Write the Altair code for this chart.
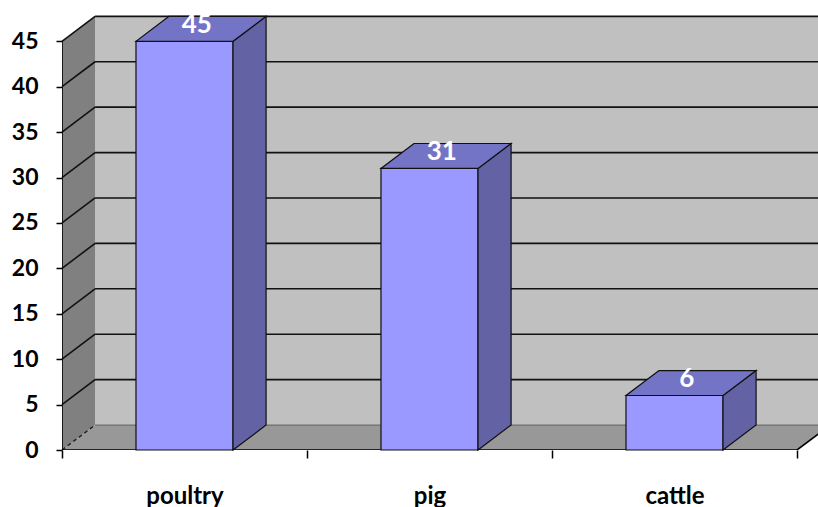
import altair as alt
import pandas as pd

# Counts per livestock category
categories = ["poultry", "pig", "cattle"]
counts = [45, 31, 6]
y_ticks = [0, 5, 10, 15, 20, 25, 30, 35, 40, 45]
y_top = 45

# 3-D box geometry, in scale units
DX = 0.135          # depth offset along x (category widths)
DY = 2.75           # depth offset along y (count units)
BAR_L, BAR_R = 0.302, 0.698
X_MAX = 756 / 245
N = len(categories)

FONT = "Lato"
FRONT, TOP, SIDE = "#9999FF", "#7474C6", "#6262A4"

x_scale = alt.Scale(domain=[0, X_MAX], nice=False, zero=False)
y_scale = alt.Scale(domain=[0, 49], nice=False)

label_expr = " : ".join(
    f"datum.value == {i + 0.5} ? '{c}'" for i, c in enumerate(categories)
) + " : ''"

x_axis = alt.Axis(
    values=[v / 2 for v in range(0, 2 * N + 1)],
    domain=False, grid=False, title=None,
    tickSize=8, tickColor="black", tickWidth=1.5,
    tickOpacity={"condition": {"test": "datum.value % 1 == 0", "value": 1}, "value": 0},
    labelExpr=label_expr, labelPadding=45, labelBaseline="alphabetic",
    labelFont=FONT, labelFontWeight="bold", labelFontSize=24, labelColor="black",
    labelOverlap=False, labelFlush=False,
)
y_axis = alt.Axis(
    values=y_ticks, domain=False, grid=False, title=None,
    tickSize=6, tickColor="black", tickWidth=1.5,
    labelFont=FONT, labelFontWeight="bold", labelFontSize=23, labelColor="black",
    labelPadding=18,
)


def X(f):
    return alt.X(f, type="quantitative", scale=x_scale, axis=x_axis)


def Y(f):
    return alt.Y(f, type="quantitative", scale=y_scale, axis=y_axis)


# ---- walls and floor ----
back = pd.DataFrame({"x": [DX], "x2": [N + DX], "y": [DY], "y2": [y_top + DY]})
back_wall = alt.Chart(back).mark_rect(color="#C0C0C0", clip=True).encode(
    x=X("x"), x2="x2", y=Y("y"), y2="y2"
)

side = pd.DataFrame({"x": [0, DX], "y": [0, DY], "y2": [y_top, y_top + DY]})
side_wall = alt.Chart(side).mark_area(color="#808080").encode(
    x=X("x"), y=Y("y"), y2="y2"
)

floor_df = pd.DataFrame({"y": [0, DY], "x": [0, DX], "x2": [N, N + DX]})
floor = alt.Chart(floor_df).mark_area(color="#989898", orient="horizontal", clip=True).encode(
    y=Y("y"), x=X("x"), x2="x2"
)

grid_vals = y_ticks[1:]
back_grid_df = pd.DataFrame({"x": DX, "x2": N + DX, "y": [v + DY for v in grid_vals]})
back_grid = alt.Chart(back_grid_df).mark_rule(color="#111111", strokeWidth=1.6, clip=True).encode(
    x=X("x"), x2="x2", y=Y("y")
)
floor_back_df = pd.DataFrame({"x": [DX], "x2": [N + DX], "y": [DY]})
floor_back = alt.Chart(floor_back_df).mark_rule(color="#6E6E6E", strokeWidth=1.2, clip=True).encode(
    x=X("x"), x2="x2", y=Y("y")
)

side_grid_df = pd.DataFrame({"x": 0, "x2": DX, "y": grid_vals, "y2": [v + DY for v in grid_vals]})
side_grid = alt.Chart(side_grid_df).mark_rule(color="#111111", strokeWidth=1.6).encode(
    x=X("x"), x2="x2", y=Y("y"), y2="y2"
)
side_floor_df = pd.DataFrame({"x": [0], "x2": [DX], "y": [0], "y2": [DY]})
side_floor = alt.Chart(side_floor_df).mark_rule(color="#222222", strokeWidth=1.4, strokeDash=[4, 3]).encode(
    x=X("x"), x2="x2", y=Y("y"), y2="y2"
)

# front edges: left axis edge, floor front edge, floor right edge
edges_df = pd.DataFrame({
    "x": [0, 0, N], "x2": [0, N, N + DX],
    "y": [0, 0, 0], "y2": [y_top, 0, DY],
})
edges = alt.Chart(edges_df).mark_rule(color="black", strokeWidth=1.6, clip=True).encode(
    x=X("x"), x2="x2", y=Y("y"), y2="y2"
)

# ---- bars ----
front_df = pd.DataFrame({
    "category": categories,
    "x": [i + BAR_L for i in range(N)],
    "x2": [i + BAR_R for i in range(N)],
    "y": 0,
    "y2": counts,
})
bar_front = alt.Chart(front_df).mark_rect(color=FRONT, stroke="#111111", strokeWidth=1.2).encode(
    x=X("x"), x2="x2", y=Y("y"), y2="y2"
)

side_rows, top_rows = [], []
for i, (c, v) in enumerate(zip(categories, counts)):
    r = i + BAR_R
    side_rows += [
        {"category": c, "x": r, "y": 0, "y2": v},
        {"category": c, "x": r + DX, "y": DY, "y2": v + DY},
    ]
    top_rows += [
        {"category": c, "y": v, "x": i + BAR_L, "x2": r},
        {"category": c, "y": v + DY, "x": i + BAR_L + DX, "x2": r + DX},
    ]

bar_side = alt.Chart(pd.DataFrame(side_rows)).mark_area(
    color=SIDE, stroke="#111111", strokeWidth=1.2
).encode(x=X("x"), y=Y("y"), y2="y2", detail="category:N")

bar_top = alt.Chart(pd.DataFrame(top_rows)).mark_area(
    color=TOP, stroke="#111111", strokeWidth=1.2, orient="horizontal"
).encode(y=Y("y"), x=X("x"), x2="x2", detail="category:N")

label_df = pd.DataFrame({
    "x": [i + 0.5 + 0.05 for i in range(N)],
    "y": [v + DY / 2 for v in counts],
    "label": [str(v) for v in counts],
})
labels = alt.Chart(label_df).mark_text(
    font=FONT, fontWeight="bold", fontSize=26, color="white", baseline="middle", dy=-4
).encode(x=X("x"), y=Y("y"), text="label:N")

chart = alt.layer(
    back_wall, floor, side_wall, back_grid, floor_back, side_grid, side_floor, edges,
    bar_front, bar_side, bar_top, labels,
).properties(
    width=756, height=445,
    autosize=alt.AutoSizeParams(type="none"),
    padding={"left": 62, "top": 5, "right": 0, "bottom": 57},
    background="white",
).configure_view(stroke=None)

chart.save("out.html", embed_options={"renderer": "svg", "actions": False})
